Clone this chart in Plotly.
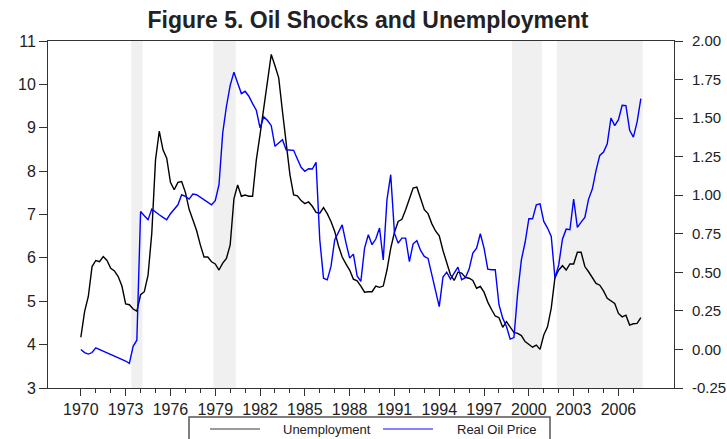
import plotly.graph_objects as go

# ---------------- data (quarterly, 1970Q1 .. 2007Q3) ----------------
quarters = [1970 + q / 4 for q in range(151)]

unemployment = [
    4.17, 4.76, 5.11, 5.80, 5.94, 5.91, 6.03, 5.94, 5.76, 5.70,
    5.57, 5.35, 4.94, 4.92, 4.82, 4.77, 5.15, 5.22, 5.60, 6.57,
    8.26, 8.92, 8.49, 8.30, 7.74, 7.57, 7.74, 7.76, 7.51, 7.12,
    6.88, 6.63, 6.30, 6.02, 6.02, 5.91, 5.86, 5.72, 5.88, 5.99,
    6.30, 7.36, 7.68, 7.42, 7.45, 7.42, 7.42, 8.26, 8.84, 9.46,
    9.96, 10.69, 10.43, 10.15, 9.38, 8.57, 7.92, 7.45, 7.43, 7.32,
    7.25, 7.29, 7.19, 7.05, 7.03, 7.16, 7.02, 6.84, 6.61, 6.28,
    6.02, 5.86, 5.72, 5.51, 5.47, 5.35, 5.21, 5.22, 5.22, 5.35,
    5.32, 5.35, 5.72, 6.22, 6.59, 6.84, 6.89, 7.11, 7.35, 7.61,
    7.63, 7.35, 7.11, 7.02, 6.79, 6.62, 6.51, 6.17, 5.91, 5.61,
    5.48, 5.67, 5.65, 5.55, 5.53, 5.48, 5.30, 5.34, 5.21, 4.98,
    4.81, 4.66, 4.62, 4.40, 4.53, 4.39, 4.28, 4.26, 4.21, 4.07,
    4.01, 3.94, 3.99, 3.89, 4.22, 4.41, 4.84, 5.55, 5.72, 5.82,
    5.72, 5.86, 5.86, 6.13, 6.13, 5.80, 5.68, 5.55, 5.41, 5.37,
    5.24, 5.07, 5.01, 4.95, 4.72, 4.64, 4.68, 4.45, 4.48, 4.49,
    4.62,
]

real_oil_price = [
    0.000, -0.020, -0.030, -0.020, 0.010, 0.000, -0.010, -0.020, -0.030, -0.040,
    -0.050, -0.060, -0.075, -0.090, 0.020, 0.060, 0.895, 0.867, 0.841, 0.910,
    0.889, 0.873, 0.856, 0.841, 0.880, 0.906, 0.938, 1.003, 0.992, 0.975,
    1.008, 1.003, 0.988, 0.971, 0.956, 0.938, 0.964, 1.068, 1.404, 1.577,
    1.712, 1.798, 1.728, 1.659, 1.674, 1.642, 1.594, 1.551, 1.436, 1.508,
    1.484, 1.451, 1.317, 1.339, 1.360, 1.295, 1.295, 1.291, 1.235, 1.181,
    1.155, 1.172, 1.170, 1.213, 0.711, 0.462, 0.451, 0.538, 0.711, 0.765,
    0.808, 0.693, 0.592, 0.618, 0.477, 0.441, 0.657, 0.744, 0.679, 0.716,
    0.787, 0.581, 0.971, 1.133, 0.754, 0.689, 0.722, 0.722, 0.570, 0.685,
    0.705, 0.642, 0.603, 0.590, 0.490, 0.393, 0.278, 0.469, 0.501, 0.456,
    0.495, 0.534, 0.452, 0.465, 0.521, 0.625, 0.657, 0.750, 0.657, 0.521,
    0.517, 0.517, 0.290, 0.203, 0.149, 0.067, 0.077, 0.365, 0.581, 0.695,
    0.848, 0.847, 0.938, 0.944, 0.830, 0.787, 0.733, 0.462, 0.548, 0.715,
    0.780, 0.776, 0.975, 0.791, 0.826, 0.856, 0.975, 1.040, 1.161, 1.258,
    1.280, 1.334, 1.501, 1.451, 1.490, 1.583, 1.581, 1.421, 1.377, 1.475,
    1.626,
]

# shaded periods (oil-shock episodes)
shade_start = [1973.375, 1978.875, 1998.875, 2001.875]
shade_end = [1974.125, 1980.375, 2000.875, 2007.625]

x_tick_values = [1970, 1973, 1976, 1979, 1982, 1985, 1988, 1991, 1994, 1997, 2000, 2003, 2006]
x_tick_labels = [str(v) for v in x_tick_values]
x_minor_values = list(range(1970, 2008))
left_tick_values = [3, 4, 5, 6, 7, 8, 9, 10, 11]
right_tick_values = [-0.25, 0.0, 0.25, 0.5, 0.75, 1.0, 1.25, 1.5, 1.75, 2.0]
right_tick_labels = ["-0.25", "0.00", "0.25", "0.50", "0.75", "1.00", "1.25", "1.50", "1.75", "2.00"]

title_text = "Figure 5. Oil Shocks and Unemployment"
series_names = ["Unemployment", "Real Oil Price"]

# ---------------- figure ----------------
FONT = "Arial, 'Liberation Sans', Helvetica, sans-serif"
W, H = 727, 439
ML, MT = 48, 41                 # plot area starts at x=48, y=41
MR, MB = W - 674, H - 388       # plot area ends at x=674, y=388
PW, PH = W - ML - MR, H - MT - MB

fig = go.Figure()
fig.add_trace(go.Scatter(x=quarters, y=unemployment, mode="lines", name=series_names[0],
                         line=dict(color="#000000", width=1.4), yaxis="y", showlegend=False))
fig.add_trace(go.Scatter(x=quarters, y=real_oil_price, mode="lines", name=series_names[1],
                         line=dict(color="#0000ff", width=1.4), yaxis="y2", showlegend=False))

for s, e in zip(shade_start, shade_end):
    fig.add_shape(type="rect", xref="x", yref="paper", x0=s, x1=e, y0=0, y1=1,
                  fillcolor="#f0f0f0", line=dict(width=0), layer="below")


def px_x(p):  # pixel -> paper x
    return (p - ML) / PW


def px_y(p):  # pixel -> paper y
    return (H - MB - p) / PH


# legend box (bottom edge runs off the page, as in the original)
fig.add_shape(type="rect", xref="paper", yref="paper",
              x0=px_x(189), x1=px_x(550), y0=px_y(417), y1=px_y(448),
              line=dict(color="#555555", width=1.5), fillcolor="rgba(0,0,0,0)")
fig.add_shape(type="line", xref="paper", yref="paper",
              x0=px_x(210), x1=px_x(260), y0=px_y(429), y1=px_y(429),
              line=dict(color="#7a7a7a", width=1.5))
fig.add_shape(type="line", xref="paper", yref="paper",
              x0=px_x(383), x1=px_x(433), y0=px_y(429), y1=px_y(429),
              line=dict(color="#5a5aff", width=1.5))
fig.add_annotation(text=series_names[0], xref="paper", yref="paper", x=px_x(281), y=px_y(429),
                   xanchor="left", yanchor="middle", showarrow=False,
                   font=dict(family=FONT, size=13, color="#222222"))
fig.add_annotation(text=series_names[1], xref="paper", yref="paper", x=px_x(455), y=px_y(429),
                   xanchor="left", yanchor="middle", showarrow=False,
                   font=dict(family=FONT, size=13, color="#222222"))

tickfont = dict(family=FONT, size=16, color="#222222")
tickfont_right = dict(family=FONT, size=15, color="#222222")
fig.update_layout(
    width=W, height=H, autosize=False,
    margin=dict(l=ML, r=MR, t=MT, b=MB, pad=0, autoexpand=False),
    paper_bgcolor="white", plot_bgcolor="white",
    title=dict(text="<b>" + title_text + "</b>", x=368 / W, xref="container",
               xanchor="center", y=1 - 20 / H, yref="container", yanchor="middle",
               automargin=False, font=dict(family=FONT, size=23, color="#222222")),
    xaxis=dict(range=[1967.8, 2009.72], tickmode="array", tickvals=x_tick_values,
               ticktext=x_tick_labels, ticks="outside", ticklen=7, tickwidth=1, tickcolor="#333333",
               showline=True, linecolor="#333333", linewidth=1, mirror=True, automargin=False,
               showgrid=False, zeroline=False, tickfont=tickfont,
               minor=dict(tickmode="array", tickvals=x_minor_values, ticks="outside",
                          ticklen=4, tickwidth=1, tickcolor="#333333", showgrid=False)),
    yaxis=dict(range=[3, 11], tickmode="array", tickvals=left_tick_values,
               ticks="outside", ticklen=8, tickwidth=1, tickcolor="#333333",
               showline=True, linecolor="#333333", linewidth=1, automargin=False,
               showgrid=False, zeroline=False, tickfont=tickfont),
    yaxis2=dict(range=[-0.25, 2.0], overlaying="y", side="right", tickmode="array",
                tickvals=right_tick_values, ticktext=right_tick_labels,
                ticks="outside", ticklen=8, tickwidth=1, tickcolor="#333333",
                showline=True, linecolor="#333333", linewidth=1, ticklabelstandoff=6,
                automargin=False, showgrid=False, zeroline=False, tickfont=tickfont_right),
)

# remove the browser's default 8px page margin so the figure fills the window exactly
fig.write_html("out.html", config={"displayModeBar": False},
               post_script="document.body.style.margin='0';document.body.style.overflow='hidden';")
